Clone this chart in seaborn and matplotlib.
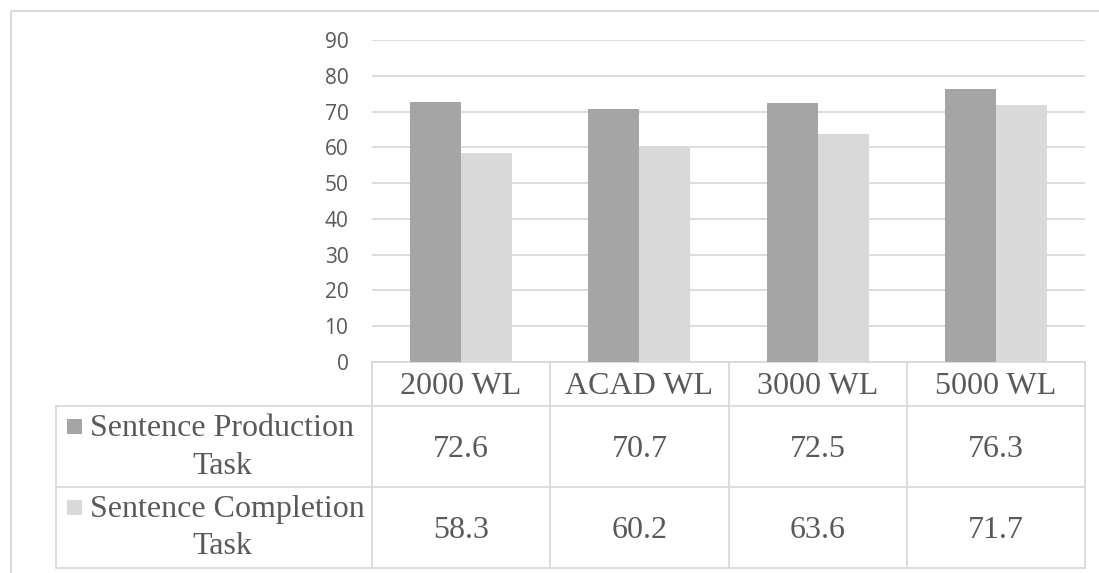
import pandas as pd
import seaborn as sns
import matplotlib.pyplot as plt
from matplotlib.patches import Rectangle

categories = ["2000 WL", "ACAD WL", "3000 WL", "5000 WL"]
series_names = ["Sentence Production Task", "Sentence Completion Task"]
series_lines = [["Sentence Production", "Task"], ["Sentence Completion", "Task"]]
production = [72.6, 70.7, 72.5, 76.3]
completion = [58.3, 60.2, 63.6, 71.7]
y_ticks = [0, 10, 20, 30, 40, 50, 60, 70, 80, 90]

colors = ["#A5A5A5", "#D9D9D9"]
grid_color = "#D9D9D9"
text_color = "#595959"

W, H = 1099, 573
plot_left, plot_right = 372, 1085
plot_top, plot_bottom = 40, 362
label_left = 56
row_edges = [362, 406, 487, 568]

df = pd.DataFrame({
    "category": categories * 2,
    "series": [series_names[0]] * 4 + [series_names[1]] * 4,
    "value": production + completion,
})

sns.set_theme(style="white")
plt.rcParams["font.family"] = ["Open Sans", "DejaVu Sans"]

fig = plt.figure(figsize=(W / 100, H / 100), dpi=100)

# overlay in pixel coords for frame and data table
over = fig.add_axes([0, 0, 1, 1])
over.set_xlim(0, W)
over.set_ylim(H, 0)
over.axis("off")

ax = fig.add_axes([plot_left / W, 1 - plot_bottom / H,
                   (plot_right - plot_left) / W, (plot_bottom - plot_top) / H])
sns.barplot(data=df, x="category", y="value", hue="series", order=categories,
            hue_order=series_names, palette=colors, width=0.573, gap=0,
            saturation=1, linewidth=0, ax=ax, legend=False, zorder=3)
ax.set_ylim(0, 90)
ax.set_xlim(-0.5, len(categories) - 0.5)
for t in y_ticks:
    ax.axhline(t, color=grid_color, lw=1.3, zorder=1)
ax.set_yticks(y_ticks)
ax.set_yticklabels([str(t) for t in y_ticks])
ax.tick_params(axis="y", length=0, pad=17, labelsize=15, labelcolor=text_color)
ax.set_xticks([])
ax.set_xlabel("")
ax.set_ylabel("")
for s in ax.spines.values():
    s.set_visible(False)
ax.patch.set_alpha(0)

# outer chart frame
over.add_patch(Rectangle((11, 11), W + 20, H + 20, fill=False,
                         edgecolor=grid_color, lw=1.5))

# data table
lw = 1.3
fs = 23
col_w = (plot_right - plot_left) / len(categories)
col_edges = [plot_left + i * col_w for i in range(len(categories) + 1)]
serif = dict(family=["Liberation Serif", "DejaVu Serif"], color=text_color,
             fontsize=fs)

over.plot([plot_left, plot_right], [row_edges[0]] * 2, color=grid_color, lw=lw)
for y in row_edges[1:]:
    over.plot([label_left, plot_right], [y, y], color=grid_color, lw=lw)
over.plot([label_left, label_left], [row_edges[1], row_edges[3]], color=grid_color, lw=lw)
for x in col_edges:
    over.plot([x, x], [row_edges[0], row_edges[3]], color=grid_color, lw=lw)

for i, cat in enumerate(categories):
    cx = (col_edges[i] + col_edges[i + 1]) / 2
    over.text(cx, row_edges[0] + 32, cat, ha="center", va="baseline", **serif)

for r, vals in enumerate([production, completion]):
    top = row_edges[r + 1]
    over.add_patch(Rectangle((67, top + 13), 15, 15, color=colors[r], lw=0))
    over.text(90, top + 30.5, series_lines[r][0], ha="left", va="baseline", **serif)
    over.text(222, top + 67.5, series_lines[r][1], ha="center", va="baseline", **serif)
    for i, v in enumerate(vals):
        cx = (col_edges[i] + col_edges[i + 1]) / 2
        over.text(cx, top + 51, f"{v:.1f}", ha="center", va="baseline", **serif)

fig.savefig("out.png", dpi=100)
